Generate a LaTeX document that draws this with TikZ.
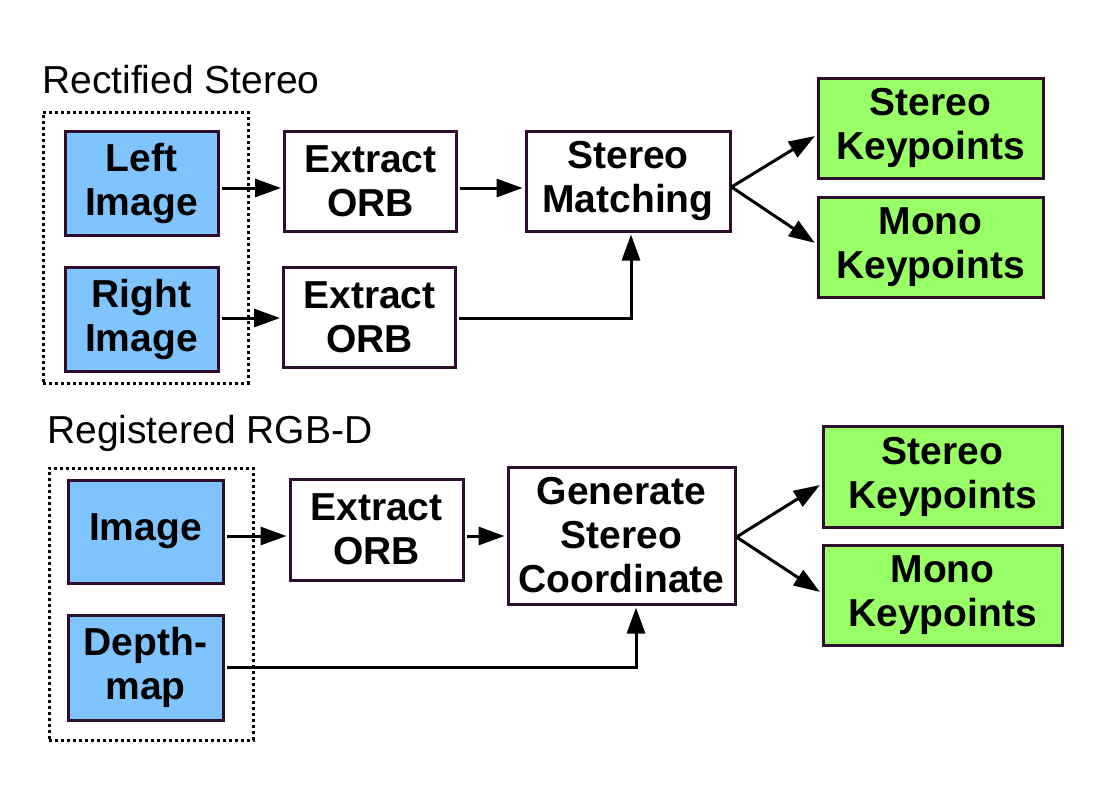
\documentclass[tikz,border=0pt]{standalone}
\usepackage{fontspec}
\setmainfont{Liberation Sans}
\usetikzlibrary{arrows.meta}
\definecolor{edgecol}{RGB}{45,15,45}
\definecolor{inblue}{RGB}{128,196,255}
\definecolor{outgreen}{RGB}{153,255,102}
\begin{document}
\begin{tikzpicture}[x=1pt,y=-1pt,
 box/.style={draw=edgecol, line width=3pt, rectangle, align=center, inner sep=0pt,
   font=\fontsize{39}{44}\selectfont\bfseries},
 inbox/.style={box, fill=inblue},
 outbox/.style={box, fill=outgreen},
 procbox/.style={box, fill=white},
 grpbox/.style={draw=black, line width=3pt, dash pattern=on 3pt off 3pt, rectangle, inner sep=0pt},
 title/.style={anchor=base west, inner sep=0pt, font=\fontsize{39}{44}\selectfont},
 conn/.style={line width=3pt, -{Triangle[length=26pt,width=18pt]}, shorten >=2pt, shorten <=2pt},
]
\useasboundingbox[fill=white] (0,0) rectangle (1102,796);

% ---------- top: rectified stereo ----------
\node[title] (t1) at (42,93) {Rectified Stereo};
\node[grpbox, minimum width=205pt, minimum height=271pt] (grp1) at (145.5,247.5) {};
\node[inbox, minimum width=153pt, minimum height=104pt] (L) at (141.5,183.5) {Left\\Image};
\node[inbox, minimum width=153pt, minimum height=104pt] (R) at (141.5,319) {Right\\Image};
\node[procbox, minimum width=172pt, minimum height=100pt] (E1) at (370.5,181) {Extract\\ORB};
\node[procbox, minimum width=172pt, minimum height=100pt] (E2) at (369.5,317) {Extract\\ORB};
\node[procbox, minimum width=204pt, minimum height=100pt] (SM) at (628,181) {Stereo\\Matching};
\node[outbox, minimum width=225pt, minimum height=100pt] (SK1) at (930.5,128) {Stereo\\Keypoints};
\node[outbox, minimum width=225pt, minimum height=100pt] (MK1) at (930.5,247.5) {Mono\\Keypoints};

\draw[conn] (L.east |- 0,188) -- (E1.west |- 0,188);
\draw[conn] (E1.east |- 0,188) -- (SM.west |- 0,188);
\draw[conn] (R.east |- 0,318) -- (E2.west |- 0,318);
\draw[conn] (E2.east |- 0,318) -| (SM.south -| 631,0);
\draw[conn, shorten <=0pt] (SM.east |- 0,187) -- (SK1.west |- 0,135);
\draw[conn, shorten <=0pt] (SM.east |- 0,187) -- (MK1.west |- 0,244);

% ---------- bottom: registered RGB-D ----------
\node[title] (t2) at (47,443) {Registered RGB-D};
\node[grpbox, minimum width=204pt, minimum height=272pt] (grp2) at (151,604) {};
\node[inbox, minimum width=155pt, minimum height=103pt] (I) at (145.5,531.5) {Image};
\node[inbox, minimum width=155pt, minimum height=105pt] (D) at (145.5,667.5) {Depth-\\map};
\node[procbox, minimum width=173pt, minimum height=101pt] (E3) at (376.5,529.5) {Extract\\ORB};
\node[procbox, minimum width=227pt, minimum height=137pt] (G) at (621.5,535.5) {Generate\\Stereo\\Coordinate};
\node[outbox, minimum width=239pt, minimum height=101pt] (SK2) at (942.5,476.5) {Stereo\\Keypoints};
\node[outbox, minimum width=239pt, minimum height=100pt] (MK2) at (942.5,595) {Mono\\Keypoints};

\draw[conn] (I.east |- 0,536) -- (E3.west |- 0,536);
\draw[conn] (E3.east |- 0,536) -- (G.west |- 0,536);
\draw[conn] (D.east |- 0,667) -| (G.south -| 636,0);
\draw[conn, shorten <=0pt] (G.east |- 0,537) -- (SK2.west |- 0,484);
\draw[conn, shorten <=0pt] (G.east |- 0,537) -- (MK2.west |- 0,593);
\end{tikzpicture}
\end{document}
